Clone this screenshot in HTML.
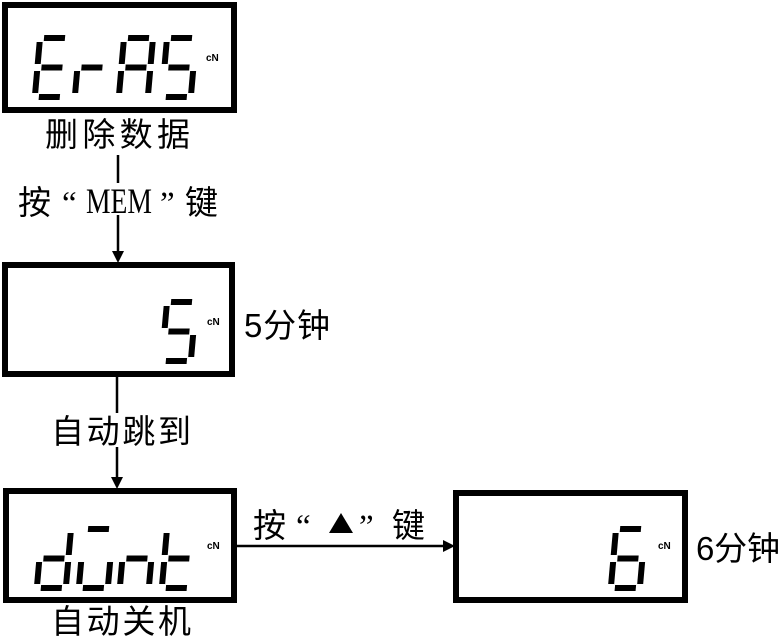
<!DOCTYPE html>
<html><head><meta charset="utf-8"><style>
html,body{margin:0;padding:0;background:#fff;}
svg{display:block;}
text{font-family:"Liberation Sans","Noto Sans CJK SC",sans-serif;fill:#000;}
.s{font-family:"Liberation Serif","Noto Serif CJK SC",serif;}
</style></head><body>
<svg width="781" height="638" viewBox="0 0 781 638" xmlns="http://www.w3.org/2000/svg">
<defs>
<g id="sa"><line x1="4" y1="0" x2="25" y2="0"/></g>
<g id="sb"><line x1="29" y1="4" x2="29" y2="26"/></g>
<g id="sc"><line x1="29" y1="33" x2="29" y2="55"/></g>
<g id="sd"><line x1="4" y1="59" x2="25" y2="59"/></g>
<g id="se"><line x1="0" y1="33" x2="0" y2="55"/></g>
<g id="sf"><line x1="0" y1="4" x2="0" y2="26"/></g>
<g id="sg"><line x1="4" y1="29.5" x2="25" y2="29.5"/></g>
</defs>
<g fill="none" stroke="#000" stroke-width="6">
<rect x="5" y="5" width="229" height="105"/>
<rect x="5" y="265" width="227" height="109"/>
<rect x="6" y="491" width="228" height="109"/>
<rect x="456" y="493" width="229" height="107"/>
</g>
<g stroke="#000" stroke-width="6" stroke-linecap="butt">
<g transform="translate(40,38) skewX(-5)"><use href="#sa"/><use href="#sf"/><use href="#sg"/><use href="#se"/><use href="#sd"/></g>
<g transform="translate(80,38) skewX(-5)"><use href="#sg"/><use href="#se"/></g>
<g transform="translate(124,38) skewX(-5)"><use href="#sa"/><use href="#sb"/><use href="#sc"/><use href="#se"/><use href="#sf"/><use href="#sg"/></g>
<g transform="translate(167,38) skewX(-5)"><use href="#sa"/><use href="#sf"/><use href="#sg"/><use href="#sc"/><use href="#sd"/></g>
<g transform="translate(167,302) skewX(-5)"><use href="#sa"/><use href="#sf"/><use href="#sg"/><use href="#sc"/><use href="#sd"/></g>
<g transform="translate(42,529) skewX(-5)"><use href="#sb"/><use href="#sc"/><use href="#sd"/><use href="#se"/><use href="#sg"/></g>
<g transform="translate(84,529) skewX(-5)"><use href="#sa"/><use href="#sc"/><use href="#sd"/><use href="#se"/></g>
<g transform="translate(125,529) skewX(-5)"><use href="#sg"/><use href="#se"/><use href="#sc"/></g>
<g transform="translate(167,529) skewX(-5)"><use href="#sf"/><use href="#se"/><use href="#sg"/><use href="#sd"/></g>
<g transform="translate(616,529) skewX(-5)"><use href="#sa"/><use href="#sf"/><use href="#sg"/><use href="#se"/><use href="#sc"/><use href="#sd"/></g>
</g>
<g font-size="10" font-weight="bold">
<text x="206" y="61">cN</text>
<text x="207" y="325">cN</text>
<text x="207" y="549">cN</text>
<text x="658" y="549">cN</text>
</g>
<g stroke="#000" stroke-width="2.5">
<line x1="118" y1="110" x2="118" y2="252"/>
<line x1="117" y1="374" x2="117" y2="478"/>
<line x1="234" y1="546" x2="444" y2="546"/>
</g>
<g fill="#000">
<polygon points="112,251 124,251 118,263"/>
<polygon points="111,477 123,477 117,489"/>
<polygon points="443,540 443,552 455,546"/>
<polygon points="341,513 329,533 353,533"/>
</g>
<rect x="40" y="113" width="160" height="42" fill="#fff"/>
<rect x="10" y="183" width="215" height="32" fill="#fff"/>
<rect x="48" y="413" width="146" height="34" fill="#fff"/>
<g font-size="33">
<text x="45" y="146" textLength="145" lengthAdjust="spacing">删除数据</text>
<text x="18" y="214">按</text>
<text class="s" x="62" y="214">“</text>
<text class="s" x="86" y="213" font-size="36" textLength="66" lengthAdjust="spacingAndGlyphs">MEM</text>
<text class="s" x="160" y="214">”</text>
<text x="185" y="214">键</text>
<text x="51" y="443" textLength="140" lengthAdjust="spacing">自动跳到</text>
<text x="51" y="633" textLength="140" lengthAdjust="spacing">自动关机</text>
<text x="244" y="337" textLength="86" lengthAdjust="spacing">5分钟</text>
<text x="696" y="560" textLength="84" lengthAdjust="spacing">6分钟</text>
<text x="253" y="537">按</text>
<text class="s" x="296" y="537">“</text>
<text class="s" x="359" y="537">”</text>
<text x="392" y="537">键</text>
</g>
</svg>
</body></html>
